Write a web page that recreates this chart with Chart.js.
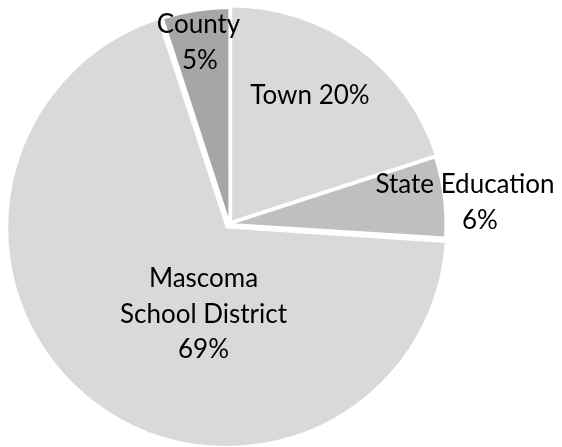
<!DOCTYPE html>
<html>
<head>
<meta charset="utf-8">
<script src="https://cdn.jsdelivr.net/npm/chart.js@4.4.0/dist/chart.umd.min.js"></script>
<style>
  html, body { margin: 0; padding: 0; background: #fff; }
  #wrap { width: 562px; height: 447px; }
</style>
</head>
<body>
<div id="wrap"><canvas id="chart" width="562" height="447"></canvas></div>
<script>
// slices go clockwise from 12 o'clock
const categories = ["Town", "State Education", "Mascoma School District", "County"];
const shares = [20, 6, 69, 5];
const sliceColors = ["#d9d9d9", "#bfbfbf", "#d9d9d9", "#a6a6a6"];
const explode = [11.4, 2.4, 18, 2.4];

// label text: Town keeps its % on the same line, Mascoma name is split in two
const labelLines = (i) => {
  const pct = shares[i] + "%";
  if (i === 0) return [categories[i] + " " + pct];
  if (i === 2) return ["Mascoma", "School District", pct];
  return [categories[i], pct];
};

// where each label sits, relative to the pie centre (x per line, first baseline)
const labelPos = [
  { dx: [80.5], dy: -119.7 },
  { dx: [235.5, 250.5], dy: -31 },
  { dx: [-26, -26, -26], dy: 63.3 },
  { dx: [-31, -29.5], dy: -191 }
];
const lineGap = 35.5;

const sliceLabels = {
  id: "sliceLabels",
  afterDatasetsDraw(chart) {
    const ctx = chart.ctx;
    const arcs = chart.getDatasetMeta(0).data;
    ctx.save();
    ctx.font = "26px Lato";
    ctx.fillStyle = "#000";
    ctx.textAlign = "center";
    ctx.textBaseline = "alphabetic";
    arcs.forEach((arc, i) => {
      const pos = labelPos[i];
      labelLines(i).forEach((txt, k) => {
        ctx.fillText(txt, arc.x + pos.dx[k], arc.y + pos.dy + k * lineGap);
      });
    });
    ctx.restore();
  }
};

const draw = () => {
  new Chart(document.getElementById("chart"), {
    type: "pie",
    data: {
      labels: categories,
      datasets: [{
        data: shares,
        backgroundColor: sliceColors,
        borderColor: "#ffffff",
        borderWidth: 2,
        offset: explode
      }]
    },
    options: {
      responsive: false,
      animation: false,
      radius: 215,
      layout: { padding: { left: 0, right: 103, top: 1, bottom: 0 } },
      plugins: {
        legend: { display: false },
        tooltip: { enabled: false }
      }
    },
    plugins: [sliceLabels]
  });
};

document.fonts.load("26px Lato").then(draw, draw);
</script>
</body>
</html>
